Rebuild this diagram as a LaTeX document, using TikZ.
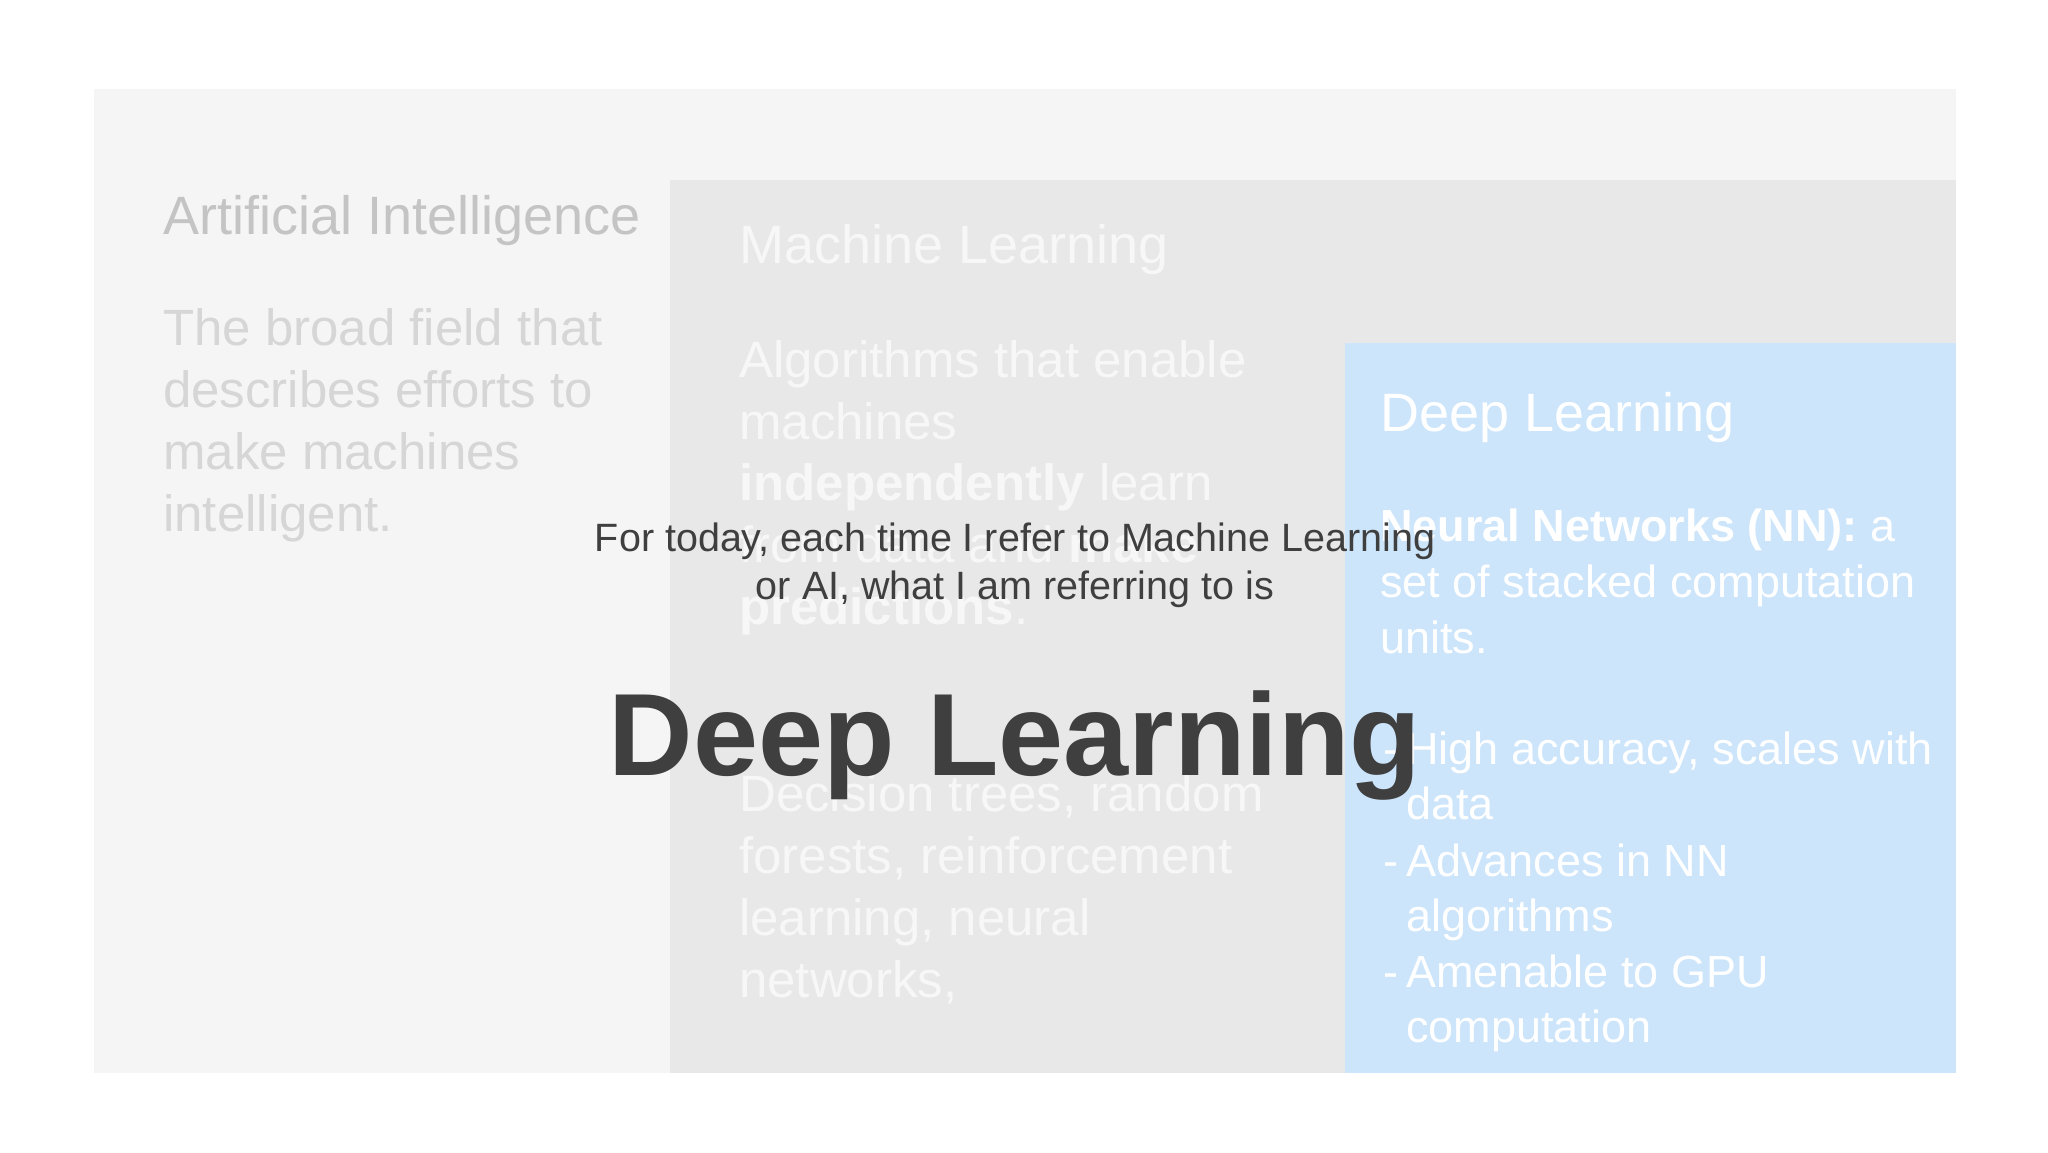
\documentclass[tikz,border=0pt]{standalone}
\usepackage{fontspec}
\setmainfont{Liberation Sans}
\newfontfamily\ovl{Liberation Sans}
\definecolor{aibg}{HTML}{F5F5F5}
\definecolor{mlbg}{HTML}{E8E8E8}
\definecolor{dlbg}{HTML}{CCE5FB}
\definecolor{aititle}{HTML}{C4C4C4}
\definecolor{aibody}{HTML}{D6D6D6}
\definecolor{mltext}{HTML}{F7F7F7}
\definecolor{ovc}{HTML}{3F3F3F}
\tikzset{
  txt/.style={anchor=base west, inner sep=0pt, align=left},
  ttl/.style={txt, font=\fontsize{54}{62}\selectfont},
  bodyA/.style={txt, font=\fontsize{51}{62}\selectfont},
  bodyD/.style={txt, font=\fontsize{45}{56}\selectfont},
}
\begin{document}
\begin{tikzpicture}[x=1pt,y=-1pt]
\useasboundingbox (0,0) rectangle (2048,1152);
\fill[white] (0,0) rectangle (2048,1152);
\fill[aibg] (94,89) rectangle (1956,1073);
\fill[mlbg] (670,180) rectangle (1956,1073);
\fill[dlbg] (1345,343) rectangle (1956,1073);
% AI
\node[ttl, text=aititle] (ait) at (163,234) {Artificial Intelligence};
\node[bodyA, text=aibody] (aib1) at (163,345) {The broad field that};
\node[bodyA, text=aibody] (aib2) at (163,407) {describes efforts to};
\node[bodyA, text=aibody] (aib3) at (163,469) {make machines};
\node[bodyA, text=aibody] (aib4) at (163,531) {intelligent.};
% ML
\node[ttl, text=mltext] (mlt) at (739,263) {Machine Learning};
\node[bodyA, text=mltext] (ml1) at (739,377) {Algorithms that enable};
\node[bodyA, text=mltext] (ml2) at (739,439) {machines};
\node[bodyA, text=mltext] (ml3) at (739,500) {\textbf{independently} learn};
\node[bodyA, text=mltext] (ml4) at (739,562) {from data and \textbf{make}};
\node[bodyA, text=mltext] (ml5) at (739,624) {\textbf{predictions}.};
\node[bodyA, text=mltext] (ml6) at (739,811) {Decision trees, random};
\node[bodyA, text=mltext] (ml7) at (739,873) {forests, reinforcement};
\node[bodyA, text=mltext] (ml8) at (739,935) {learning, neural};
\node[bodyA, text=mltext] (ml9) at (739,997) {networks,};
% DL
\node[ttl, text=white] (dlt) at (1380,431) {Deep Learning};
\node[bodyD, text=white] (dl1) at (1380,541) {\textbf{Neural Networks (NN):} a};
\node[bodyD, text=white] (dl2) at (1380,597) {set of stacked computation};
\node[bodyD, text=white] (dl3) at (1380,653) {units.};
\node[bodyD, text=white] (b1d) at (1383,764) {-};
\node[bodyD, text=white] (b1) at (1406,764) {High accuracy, scales with};
\node[bodyD, text=white] (b1b) at (1406,819) {data};
\node[bodyD, text=white] (b2d) at (1383,876) {-};
\node[bodyD, text=white] (b2) at (1406,876) {Advances in NN};
\node[bodyD, text=white] (b2b) at (1406,931) {algorithms};
\node[bodyD, text=white] (b3d) at (1383,987) {-};
\node[bodyD, text=white] (b3) at (1406,987) {Amenable to GPU};
\node[bodyD, text=white] (b3b) at (1406,1042) {computation};
% overlay
\node[anchor=base, inner sep=0pt, text=ovc, font=\ovl\fontsize{39.5}{48}\selectfont] (o1) at (1015,551) {For today, each time I refer to Machine Learning};
\node[anchor=base, inner sep=0pt, text=ovc, font=\ovl\fontsize{39.5}{48}\selectfont] (o2) at (1015,599) {or AI, what I am referring to is};
\node[anchor=base, inner sep=0pt, text=ovc, font=\ovl\bfseries\fontsize{117}{130}\selectfont] (big) at (1015,775) {Deep Learning};
\end{tikzpicture}
\end{document}
